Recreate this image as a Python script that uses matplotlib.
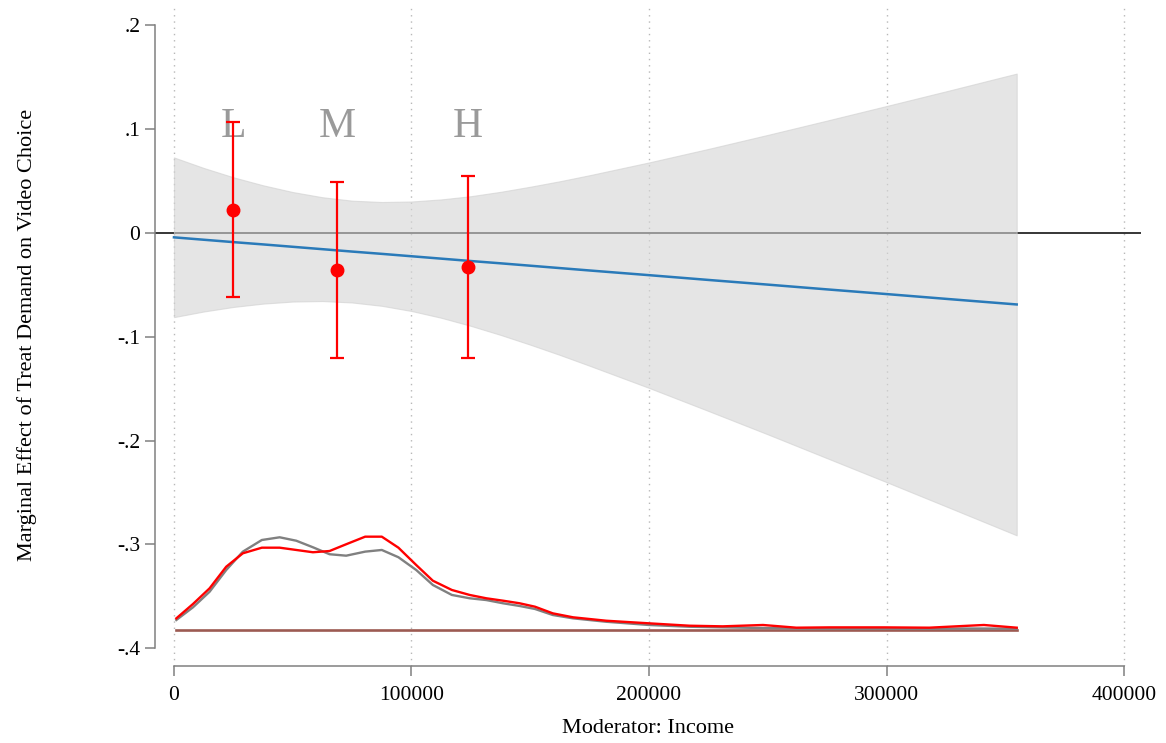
import matplotlib
matplotlib.use("Agg")
import matplotlib.pyplot as plt

plt.rcParams['font.family'] = ['Liberation Serif', 'DejaVu Serif']

# marginal effect line and 95% band
me_x = [0, 12500, 25000, 37500, 50000, 62500, 75000, 87500, 100000, 112500, 125000,
        137500, 150000, 162500, 175000, 200000, 225000, 250000, 275000, 300000,
        325000, 354800]
me_mid = [-0.0044, -0.0067, -0.0090, -0.0112, -0.0135, -0.0158, -0.0181, -0.0203,
          -0.0226, -0.0249, -0.0272, -0.0294, -0.0317, -0.0340, -0.0363, -0.0408,
          -0.0454, -0.0499, -0.0545, -0.0590, -0.0636, -0.0690]
me_upper = [0.0725, 0.0624, 0.0534, 0.0457, 0.0392, 0.0342, 0.0309, 0.0296, 0.0301,
            0.0321, 0.0352, 0.0394, 0.0443, 0.0496, 0.0554, 0.0677, 0.0807, 0.0942,
            0.1080, 0.1220, 0.1361, 0.1532]
me_lower = [-0.0812, -0.0758, -0.0714, -0.0682, -0.0662, -0.0657, -0.0671, -0.0703,
            -0.0753, -0.0818, -0.0896, -0.0983, -0.1077, -0.1176, -0.1280, -0.1493,
            -0.1715, -0.1940, -0.2170, -0.2400, -0.2633, -0.2912]

# binned estimates (L, M, H)
bin_labels = ['L', 'M', 'H']
bin_x = [25000, 68800, 123900]
bin_est = [0.0222, -0.0363, -0.0325]
bin_hi = [0.1066, 0.0488, 0.0542]
bin_lo = [-0.0623, -0.1204, -0.1204]
label_y = 0.1025

# density of the moderator (drawn on the effect scale)
dens_x = [1000, 8000, 15000, 22000, 29000, 37000, 44500, 51500, 58500, 65500,
          72500, 80500, 87500, 94500, 102000, 109000, 117000, 124500, 131500,
          138500, 145500, 152000, 159500, 168000, 182000, 200000, 217000, 231000,
          248000, 262000, 276000, 299000, 318000, 332000, 341000, 354800]
dens_treat = [-0.3711, -0.3573, -0.3422, -0.3214, -0.3085, -0.3031, -0.3031, -0.3053,
              -0.3075, -0.3063, -0.2998, -0.2925, -0.2925, -0.3031, -0.3198, -0.3349,
              -0.3438, -0.3486, -0.3518, -0.3541, -0.3566, -0.3599, -0.3663, -0.3701,
              -0.3734, -0.3759, -0.3782, -0.3788, -0.3775, -0.3801, -0.3798, -0.3798,
              -0.3801, -0.3785, -0.3775, -0.3801]
dens_ctrl = [-0.3727, -0.3605, -0.3455, -0.3246, -0.3069, -0.2957, -0.2931, -0.2964,
             -0.3027, -0.3094, -0.3108, -0.3069, -0.3053, -0.3123, -0.3246, -0.3390,
             -0.3486, -0.3518, -0.3535, -0.3566, -0.3592, -0.3621, -0.3679, -0.3711,
             -0.3744, -0.3775, -0.3792, -0.3798, -0.3804, -0.3809, -0.3811, -0.3811,
             -0.3812, -0.3809, -0.3809, -0.3811]
dens_base = -0.3824

yticks = [-0.4, -0.3, -0.2, -0.1, 0, 0.1, 0.2]
ytick_labels = ['-.4', '-.3', '-.2', '-.1', '0', '.1', '.2']
xticks = [0, 100000, 200000, 300000, 400000]

fig = plt.figure(figsize=(11.66, 7.43), dpi=100)
ax = fig.add_axes([0.1329, 0.1036, 0.9786 - 0.1329, 0.9938 - 0.1036])

for xt in xticks:
    ax.axvline(xt, color='#b8b8b8', lw=1.0, ls=(0, (1, 3.5)), zorder=0)

ax.axhline(0, color='black', lw=1.1, zorder=1)
ax.fill_between(me_x, me_lower, me_upper, facecolor='#d5d5d5', alpha=0.6,
                edgecolor='#cfcfcf', lw=0.8, zorder=2)
ax.plot(me_x, me_mid, color='#2a7ab9', lw=1.8, zorder=3)

# density curves
ax.plot([dens_x[0], dens_x[-1]], [dens_base, dens_base], color='#9c5a52', lw=1.9, zorder=3)
ax.plot(dens_x, dens_ctrl, color='#808080', lw=1.7, zorder=3)
ax.plot(dens_x, dens_treat, color='#ff0000', lw=1.7, zorder=4)

for lab, xx in zip(bin_labels, bin_x):
    ax.text(xx, label_y, lab, fontsize=30, color='#9a9a9a', ha='center', va='center', zorder=2.5)

err_lo = [e - l for e, l in zip(bin_est, bin_lo)]
err_hi = [h - e for e, h in zip(bin_est, bin_hi)]
ax.errorbar(bin_x, bin_est, yerr=[err_lo, err_hi], fmt='o', color='#ff0000',
            ms=9, elinewidth=1.6, capsize=5, capthick=1.6, zorder=5)

ax.set_xlim(-8000, 407150)
ax.set_ylim(-0.417, 0.2196)
ax.set_yticks(yticks)
ax.set_yticklabels(ytick_labels)
ax.set_xticks(xticks)
ax.set_xticklabels([str(v) for v in xticks])

for side in ['top', 'right']:
    ax.spines[side].set_visible(False)
ax.spines['left'].set_bounds(-0.4, 0.2)
ax.spines['bottom'].set_bounds(0, 400000)
for side in ['left', 'bottom']:
    ax.spines[side].set_color('#808080')
    ax.spines[side].set_linewidth(1.1)

ax.tick_params(axis='both', colors='#808080', width=1.1, length=7, labelsize=15.5,
               labelcolor='black')
ax.tick_params(axis='y', pad=3.5)
ax.tick_params(axis='x', pad=7.5)

ax.set_xlabel('Moderator: Income', fontsize=16, labelpad=10)
ax.set_ylabel('Marginal Effect of Treat Demand on Video Choice', fontsize=16, labelpad=58)

fig.savefig('out.png', dpi=100)
